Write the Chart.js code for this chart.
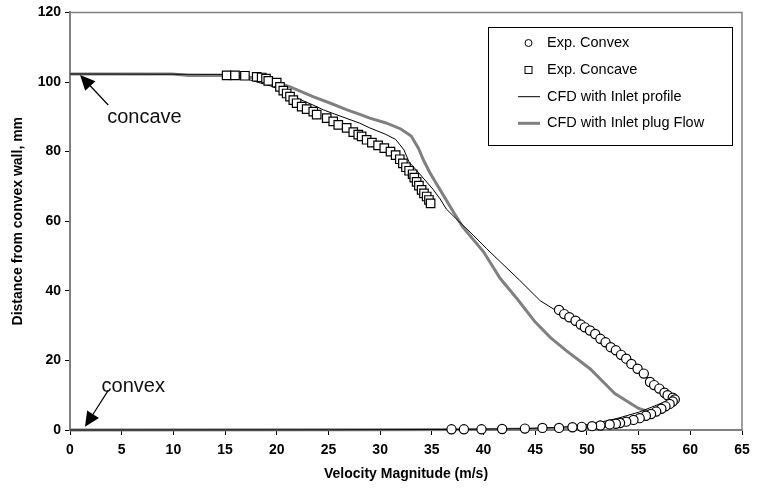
<!DOCTYPE html>
<html>
<head>
<meta charset="utf-8">
<script src="https://cdn.jsdelivr.net/npm/chart.js@4.4.1/dist/chart.umd.min.js"></script>
<style>
  html, body { margin: 0; padding: 0; background: #fff; }
  #wrap { width: 770px; height: 488px; }
</style>
</head>
<body>
<div id="wrap"><canvas id="chart"></canvas></div>
<script>
// Exp. Convex (circles): velocity (m/s) and distance (mm)
const convexV = [47.3, 47.8, 48.3, 48.9, 49.4, 49.8, 50.3, 50.8, 51.3, 51.8, 52.3, 52.8, 53.3, 53.8, 54.3, 54.9, 55.5, 56.1, 56.5, 57.0, 57.5, 57.8, 58.3, 58.5,
                 58.3, 58.0, 57.6, 57.2, 56.7, 56.2, 55.7, 55.1, 54.5, 53.8, 53.2, 52.8, 52.2, 51.3, 50.5, 49.5, 48.6, 47.3, 45.7, 44.0, 41.8, 39.8, 38.1, 36.9];
const convexY = [34.5, 33.3, 32.4, 31.4, 30.3, 29.5, 28.6, 27.6, 26.2, 25.2, 23.8, 22.9, 21.6, 20.5, 19.0, 17.6, 16.2, 13.8, 12.9, 11.9, 10.7, 10.0, 9.3, 8.8,
                 8.2, 7.5, 6.8, 6.1, 5.3, 4.6, 4.1, 3.4, 2.9, 2.4, 2.0, 1.8, 1.6, 1.3, 1.1, 0.9, 0.8, 0.6, 0.6, 0.4, 0.3, 0.2, 0.2, 0.2];

// Exp. Concave (squares)
const concaveV = [15.15, 15.96, 16.92, 18.06, 18.54, 18.96, 19.18, 19.99, 20.31, 20.63, 20.96, 21.28, 21.6, 21.92, 22.41, 22.89, 23.53, 23.86, 24.83, 25.46, 25.95, 26.76,
                  27.4, 27.88, 28.21, 28.69, 29.2, 29.8, 30.4, 31.0, 31.5, 31.9, 32.2, 32.5, 32.8, 33.14, 33.3, 33.53, 33.75, 34.01, 34.24, 34.5, 34.72, 34.88];
const concaveY = [101.9, 101.9, 101.8, 101.5, 101.3, 101.0, 100.3, 99.8, 98.6, 97.5, 96.7, 95.8, 94.8, 93.9, 92.9, 92.2, 91.5, 90.6, 89.6, 88.7, 87.7, 86.8,
                  85.6, 84.9, 84.4, 83.4, 82.6, 81.8, 81.0, 80.0, 79.0, 77.8, 76.6, 75.5, 74.5, 73.5, 72.5, 71.3, 70.2, 69.0, 68.0, 67.1, 66.1, 65.1];

// CFD with Inlet profile (thin black line)
const profileV = [0, 15.5, 16.7, 19.6, 21.3, 23.5, 24.5, 25.4, 28.0, 29.0, 30.5, 31.5, 32.3, 32.8, 33.7, 35.1, 35.8, 36.4, 37.7, 39.0, 40.3, 41.6, 43.5, 45.5, 47.3,
                  49.0, 51.0, 53.0, 55.0, 56.5, 57.5, 58.2, 58.4, 57.6, 56.7, 55.1, 52.9, 50.3, 47.5, 44.0, 38.0, 25.0, 0];
const profileY = [102.3, 102.2, 101.2, 98.7, 96.2, 93.4, 92.0, 91.0, 88.2, 86.8, 85.0, 83.5, 80.5, 77.0, 74.0, 69.2, 66.4, 63.5, 59.7, 56.0, 52.1, 48.4, 43.0, 37.1, 33.8,
                  30.0, 26.0, 21.5, 17.0, 13.5, 11.0, 9.7, 9.0, 8.2, 7.1, 5.2, 3.3, 1.6, 0.8, 0.4, 0.15, 0.05, 0];

// CFD with Inlet plug Flow (thick grey line)
const plugV = [0, 9.9, 11.5, 15.5, 17.1, 19.3, 21.3, 23.5, 25.2, 26.8, 28.1, 29.0, 30.5, 32.0, 33.0, 33.7, 34.2, 34.8, 35.3, 35.8, 37.1, 38.0, 40.0, 41.6, 43.3,
               45.0, 46.5, 48.0, 50.3, 52.7, 55.0, 56.3, 55.5, 54.0, 52.0, 50.0, 46.0, 40.0, 30.0, 0];
const plugY = [102.3, 102.3, 101.9, 101.9, 101.5, 100.5, 98.6, 95.8, 93.9, 92.0, 90.6, 89.6, 88.3, 86.5, 84.5, 81.0, 77.5, 74.0, 71.5, 69.0, 62.6, 58.3, 51.2, 43.6, 37.5,
               31.0, 26.5, 22.8, 17.6, 10.5, 6.2, 5.0, 3.6, 2.0, 1.1, 0.6, 0.3, 0.15, 0.05, 0];

const seriesNames = ['Exp. Convex', 'Exp. Concave', 'CFD with Inlet profile', 'CFD with Inlet plug Flow'];

const xMin = 0, xMax = 65, xStep = 5;
const yMin = 0, yMax = 120, yStep = 20;

const FONT = "'Liberation Sans', Arial, sans-serif";
const toPoints = (xs, ys) => xs.map((x, i) => ({ x: x, y: ys[i] }));

// frame, arrows and legend box
const extras = {
    id: 'extras',
    afterDraw(chart) {
        const ctx = chart.ctx;
        const area = chart.chartArea;
        const xs = chart.scales.x, ys = chart.scales.y;
        ctx.save();

        // grey frame on top and right
        ctx.strokeStyle = '#808080';
        ctx.lineWidth = 1.5;
        ctx.beginPath();
        ctx.moveTo(area.left, area.top);
        ctx.lineTo(area.right, area.top);
        ctx.lineTo(area.right, area.bottom);
        ctx.stroke();

        // arrows
        const arrow = (x1, y1, x2, y2) => {
            const ax = xs.getPixelForValue(x1), ay = ys.getPixelForValue(y1);
            const bx = xs.getPixelForValue(x2), by = ys.getPixelForValue(y2);
            const ang = Math.atan2(by - ay, bx - ax);
            const len = 15, half = 7;
            ctx.strokeStyle = '#000';
            ctx.lineWidth = 1.2;
            ctx.beginPath();
            ctx.moveTo(ax, ay);
            ctx.lineTo(bx - Math.cos(ang) * len * 0.8, by - Math.sin(ang) * len * 0.8);
            ctx.stroke();
            ctx.fillStyle = '#000';
            ctx.beginPath();
            ctx.moveTo(bx, by);
            ctx.lineTo(bx - Math.cos(ang) * len - Math.sin(ang) * half, by - Math.sin(ang) * len + Math.cos(ang) * half);
            ctx.lineTo(bx - Math.cos(ang) * len + Math.sin(ang) * half, by - Math.sin(ang) * len - Math.cos(ang) * half);
            ctx.closePath();
            ctx.fill();
        };
        arrow(3.7, 93.4, 0.97, 102);
        arrow(3.7, 11.4, 1.45, 0.9);

        ctx.fillStyle = '#111';
        ctx.font = '20px ' + FONT;
        ctx.textAlign = 'left';
        ctx.textBaseline = 'alphabetic';
        ctx.fillText('concave', xs.getPixelForValue(3.6), ys.getPixelForValue(88.2));
        ctx.fillText('convex', xs.getPixelForValue(3.05), ys.getPixelForValue(10.9));

        // legend
        const bx = 488, by = 27, bw = 244, bh = 118;
        ctx.fillStyle = '#fff';
        ctx.fillRect(bx, by, bw, bh);
        ctx.strokeStyle = '#000';
        ctx.lineWidth = 1;
        ctx.strokeRect(bx + 0.5, by + 0.5, bw, bh);

        const rows = [43, 70, 96.7, 123.3];
        const mx = 528.5, tx = 547;
        ctx.font = '14.5px ' + FONT;
        ctx.textBaseline = 'middle';
        ctx.fillStyle = '#000';
        chart.data.datasets.forEach((ds, i) => {
            const yy = rows[i];
            if (i === 0) {
                ctx.beginPath();
                ctx.arc(mx, yy, 3.5, 0, Math.PI * 2);
                ctx.fillStyle = '#fff';
                ctx.fill();
                ctx.strokeStyle = '#000';
                ctx.lineWidth = 1;
                ctx.stroke();
            } else if (i === 1) {
                ctx.fillStyle = '#fff';
                ctx.fillRect(mx - 3.5, yy - 3.5, 7, 7);
                ctx.strokeStyle = '#000';
                ctx.lineWidth = 1;
                ctx.strokeRect(mx - 3.5, yy - 3.5, 7, 7);
            } else {
                ctx.strokeStyle = ds.borderColor;
                ctx.lineWidth = ds.borderWidth;
                ctx.beginPath();
                ctx.moveTo(518, yy);
                ctx.lineTo(540, yy);
                ctx.stroke();
            }
            ctx.fillStyle = '#000';
            ctx.fillText(ds.label, tx, yy);
        });
        ctx.restore();
    }
};

const chart = new Chart(document.getElementById('chart'), {
    type: 'scatter',
    data: {
        datasets: [
            {
                label: seriesNames[0],
                data: toPoints(convexV, convexY),
                pointStyle: 'circle',
                pointRadius: 4.6,
                pointBackgroundColor: '#fff',
                pointBorderColor: '#000',
                pointBorderWidth: 1.2,
                showLine: false,
                clip: false
            },
            {
                label: seriesNames[1],
                data: toPoints(concaveV, concaveY),
                pointStyle: 'rect',
                pointRadius: 6,
                pointBackgroundColor: '#fff',
                pointBorderColor: '#000',
                pointBorderWidth: 1.2,
                showLine: false,
                clip: false
            },
            {
                label: seriesNames[2],
                data: toPoints(profileV, profileY),
                showLine: true,
                borderColor: '#000',
                borderWidth: 1,
                pointRadius: 0,
                tension: 0,
                clip: false
            },
            {
                label: seriesNames[3],
                data: toPoints(plugV, plugY),
                showLine: true,
                borderColor: '#808080',
                borderWidth: 3,
                pointRadius: 0,
                tension: 0,
                clip: false
            }
        ]
    },
    options: {
        responsive: true,
        maintainAspectRatio: false,
        animation: false,
        events: [],
        layout: { padding: { left: 0, right: 28, top: 8, bottom: 0 } },
        plugins: {
            legend: { display: false },
            tooltip: { enabled: false }
        },
        scales: {
            x: {
                type: 'linear',
                min: xMin,
                max: xMax,
                afterFit: (s) => { s.height = 58; },
                ticks: {
                    stepSize: xStep,
                    color: '#000',
                    padding: 7,
                    font: { family: FONT, size: 14, weight: 'bold' }
                },
                grid: { drawOnChartArea: false, drawTicks: true, tickLength: 5, color: '#000' },
                border: { color: '#808080', width: 2 },
                title: {
                    display: true,
                    text: 'Velocity Magnitude (m/s)',
                    color: '#000',
                    padding: { top: 0, bottom: 5 },
                    font: { family: FONT, size: 14, weight: 'bold' }
                }
            },
            y: {
                type: 'linear',
                min: yMin,
                max: yMax,
                afterFit: (s) => { s.width = 70; },
                ticks: {
                    stepSize: yStep,
                    color: '#000',
                    padding: 4,
                    font: { family: FONT, size: 14, weight: 'bold' }
                },
                grid: { drawOnChartArea: false, drawTicks: true, tickLength: 5, color: '#000' },
                border: { color: '#808080', width: 2 },
                title: {
                    display: true,
                    text: 'Distance from convex wall, mm',
                    color: '#000',
                    padding: { top: 10, bottom: 0 },
                    font: { family: FONT, size: 14, weight: 'bold' }
                }
            }
        }
    },
    plugins: [extras]
});
</script>
</body>
</html>
